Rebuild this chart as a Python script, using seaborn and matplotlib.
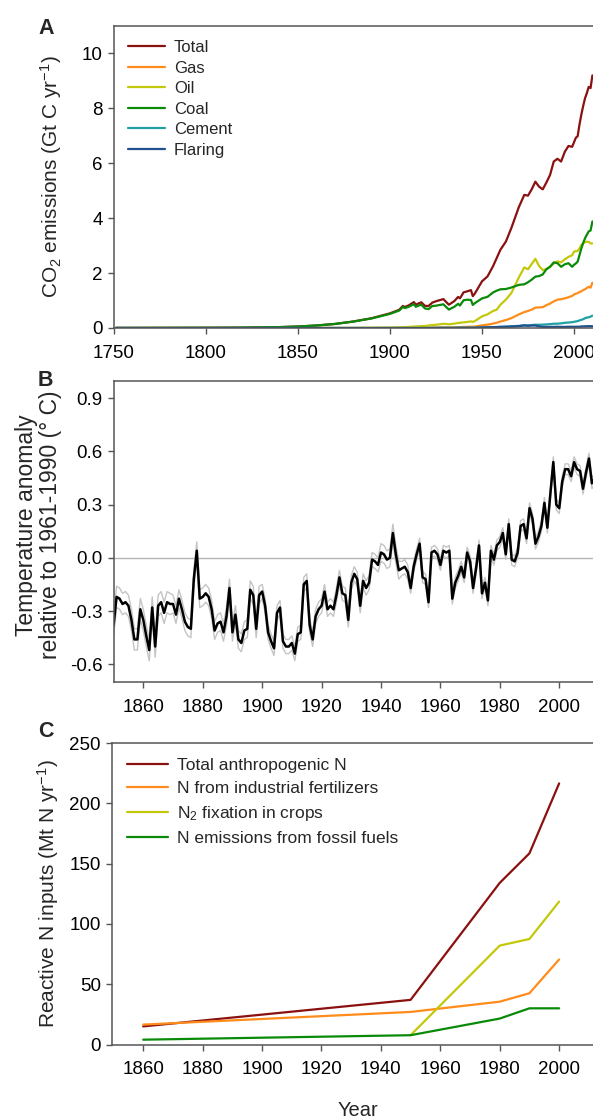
import numpy as np
import pandas as pd
import matplotlib
matplotlib.use("Agg")
import matplotlib.pyplot as plt
import seaborn as sns

# ---- panel A: CO2 emissions by source (Gt C / yr) ----
years_a = [1751, 1760, 1770, 1780, 1790, 1800, 1810, 1820, 1830, 1840,
           1850, 1860, 1870, 1880, 1890, 1900, 1905, 1907, 1908, 1910,
           1913, 1914, 1917, 1919, 1921, 1923, 1925, 1929, 1932, 1935,
           1937, 1938, 1940, 1942, 1944, 1945, 1946, 1950, 1953, 1956,
           1958, 1960, 1963, 1966, 1970, 1973, 1975, 1977, 1979, 1981,
           1983, 1985, 1987, 1989, 1991, 1993, 1995, 1997, 1999,
           2000, 2001, 2002, 2003, 2004, 2005, 2006, 2007, 2008, 2009, 2010]
total_a = [.003, .003, .004, .005, .007, .008, .010, .014, .024, .033,
           .054, .091, .147, .236, .356, .534, .663, .805, .764, .819,
           .943, .850, .936, .806, .803, .925, .975, 1.053, .848, .982,
           1.132, 1.080, 1.299, 1.336, 1.380, 1.160, 1.242, 1.700, 1.880, 2.250,
           2.550, 2.850, 3.150, 3.650, 4.400, 4.850, 4.820, 5.050, 5.330, 5.150,
           5.050, 5.300, 5.576, 6.065, 6.164, 6.063, 6.418, 6.630, 6.600,
           6.765, 6.930, 6.987, 7.420, 7.776, 8.090, 8.370, 8.560, 8.783, 8.740, 9.200]
gas_a = [0, 0, 0, 0, 0, 0, 0, 0, 0, 0,
         0, 0, 0, 0, .002, .003, .004, .005, .005, .006,
         .007, .007, .008, .009, .010, .015, .017, .025, .022, .025,
         .030, .030, .040, .042, .048, .045, .050, .097, .120, .160,
         .190, .235, .290, .360, .493, .580, .620, .670, .740, .750,
         .760, .830, .890, .970, 1.030, 1.050, 1.080, 1.120, 1.170,
         1.220, 1.250, 1.270, 1.310, 1.340, 1.380, 1.410, 1.460, 1.500, 1.470, 1.650]
oil_a = [0, 0, 0, 0, 0, 0, 0, 0, 0, 0,
         0, 0, .001, .003, .008, .016, .024, .030, .032, .037,
         .054, .055, .068, .072, .090, .105, .118, .152, .136, .158,
         .182, .190, .205, .220, .240, .225, .247, .423, .497, .620,
         .665, .849, 1.035, 1.280, 1.839, 2.207, 2.139, 2.330, 2.520, 2.260,
         2.110, 2.150, 2.230, 2.350, 2.430, 2.390, 2.500, 2.590, 2.650,
         2.780, 2.800, 2.810, 2.900, 3.030, 3.080, 3.130, 3.140, 3.140, 3.080, 3.080]
coal_a = [.003, .003, .004, .005, .007, .008, .010, .014, .024, .033,
          .054, .091, .147, .234, .348, .515, .635, .767, .725, .767,
          .868, .774, .852, .712, .690, .800, .813, .863, .672, .775,
          .880, .817, 1.010, 1.030, 1.020, .840, .900, 1.078, 1.135, 1.295,
          1.360, 1.410, 1.420, 1.475, 1.571, 1.593, 1.666, 1.760, 1.871, 1.890,
          1.950, 2.140, 2.230, 2.390, 2.360, 2.230, 2.320, 2.360, 2.230,
          2.300, 2.350, 2.420, 2.660, 2.900, 3.100, 3.270, 3.400, 3.520, 3.550, 3.880]
cement_a = [0, 0, 0, 0, 0, 0, 0, 0, 0, 0,
            0, 0, 0, 0, 0, 0, 0, 0, 0, 0,
            0, 0, 0, 0, 0, .005, .006, .010, .008, .009,
            .011, .011, .012, .011, .008, .008, .011, .018, .022, .028,
            .032, .043, .050, .060, .078, .095, .095, .106, .119, .118,
            .122, .131, .142, .155, .157, .169, .190, .200, .210,
            .226, .238, .252, .276, .298, .320, .356, .382, .388, .413, .450]
flaring_a = [0, 0, 0, 0, 0, 0, 0, 0, 0, 0,
             0, 0, 0, 0, 0, 0, 0, 0, 0, 0,
             0, 0, 0, 0, 0, 0, 0, 0, 0, 0,
             .004, .004, .005, .006, .007, .007, .008, .023, .024, .031,
             .036, .039, .045, .055, .068, .095, .080, .090, .090, .060,
             .040, .040, .040, .040, .045, .040, .040, .045, .045,
             .045, .045, .046, .048, .055, .060, .062, .064, .068, .066, .065]

# ---- panel B: temperature anomaly (deg C, relative to 1961-1990) ----
years_b = list(range(1850, 2013))
temp_b = [-0.38, -0.22, -0.23, -0.26, -0.25, -0.27, -0.35, -0.46, -0.46, -0.29,
          -0.35, -0.44, -0.52, -0.28, -0.50, -0.27, -0.25, -0.31, -0.25, -0.26,
          -0.26, -0.32, -0.23, -0.29, -0.36, -0.39, -0.40, -0.12, 0.04, -0.23,
          -0.22, -0.20, -0.22, -0.29, -0.41, -0.37, -0.36, -0.42, -0.33, -0.17,
          -0.42, -0.32, -0.46, -0.48, -0.41, -0.40, -0.18, -0.21, -0.40, -0.21,
          -0.19, -0.27, -0.42, -0.47, -0.51, -0.31, -0.28, -0.47, -0.50, -0.50,
          -0.48, -0.54, -0.43, -0.42, -0.15, -0.13, -0.38, -0.46, -0.33, -0.29,
          -0.27, -0.19, -0.29, -0.27, -0.29, -0.21, -0.11, -0.20, -0.21, -0.35,
          -0.14, -0.09, -0.12, -0.27, -0.13, -0.17, -0.14, -0.01, -0.02, -0.04,
          0.03, 0.02, -0.01, 0.00, 0.14, 0.02, -0.07, -0.06, -0.05, -0.08,
          -0.17, -0.05, 0.02, 0.08, -0.11, -0.12, -0.25, 0.03, 0.04, 0.02,
          -0.04, 0.04, 0.03, 0.04, -0.23, -0.14, -0.10, -0.05, -0.11, 0.03,
          -0.02, -0.17, -0.06, 0.07, -0.20, -0.14, -0.24, 0.04, -0.01, 0.07,
          0.09, 0.14, 0.02, 0.19, -0.01, -0.02, 0.03, 0.18, 0.19, 0.11,
          0.28, 0.22, 0.08, 0.12, 0.18, 0.31, 0.17, 0.36, 0.54, 0.30,
          0.28, 0.43, 0.50, 0.50, 0.46, 0.54, 0.50, 0.49, 0.39, 0.48,
          0.56, 0.42, 0.45]
# half-width of the grey uncertainty band
spread_b = [0.06, 0.06, 0.06, 0.06, 0.06, 0.06, 0.06, 0.06, 0.06, 0.06,
            0.06, 0.06, 0.06, 0.06, 0.06, 0.06, 0.06, 0.06, 0.06, 0.06,
            0.05, 0.05, 0.05, 0.05, 0.05, 0.05, 0.05, 0.05, 0.05, 0.05,
            0.05, 0.05, 0.05, 0.05, 0.05, 0.05, 0.05, 0.05, 0.05, 0.05,
            0.05, 0.05, 0.05, 0.05, 0.05, 0.05, 0.05, 0.05, 0.05, 0.05,
            0.04, 0.04, 0.04, 0.04, 0.04, 0.04, 0.04, 0.04, 0.04, 0.04,
            0.04, 0.04, 0.04, 0.04, 0.04, 0.04, 0.04, 0.04, 0.04, 0.04,
            0.04, 0.04, 0.04, 0.04, 0.04, 0.04, 0.04, 0.04, 0.04, 0.04,
            0.04, 0.04, 0.04, 0.04, 0.04, 0.04, 0.04, 0.04, 0.04, 0.04,
            0.05, 0.05, 0.05, 0.05, 0.05, 0.05, 0.05, 0.04, 0.04, 0.04,
            0.03, 0.03, 0.03, 0.03, 0.03, 0.03, 0.03, 0.03, 0.03, 0.03,
            0.03, 0.03, 0.03, 0.03, 0.03, 0.03, 0.03, 0.03, 0.03, 0.03,
            0.03, 0.03, 0.03, 0.03, 0.03, 0.03, 0.03, 0.03, 0.03, 0.03,
            0.03, 0.03, 0.03, 0.03, 0.03, 0.03, 0.03, 0.03, 0.03, 0.03,
            0.03, 0.03, 0.03, 0.03, 0.03, 0.03, 0.03, 0.03, 0.03, 0.03,
            0.03, 0.03, 0.03, 0.03, 0.03, 0.03, 0.03, 0.03, 0.03, 0.03,
            0.03, 0.03, 0.03]

# ---- panel C: reactive N inputs (Mt N / yr) ----
years_c = [1860, 1950, 1980, 1990, 2000]
total_c = [15, 37, 134, 158.5, 216.5]
fert_c = [16.5, 27, 35.5, 42.5, 70.5]
fix_c = [np.nan, 7.7, 82, 87.5, 118.5]
fossil_c = [4, 7.7, 21.5, 30, 30]

RED = "#8b1010"
ORANGE = "#ff8c1a"
OLIVE = "#c3c80a"
GREEN = "#098a09"
TEAL = "#1fa0a5"
NAVY = "#1f5090"
SPINE = "#555555"

sns.set_theme(style="ticks")
plt.rcParams["font.family"] = ["Liberation Sans", "DejaVu Sans"]
plt.rcParams["mathtext.fontset"] = "custom"
plt.rcParams["mathtext.rm"] = "Liberation Sans"
plt.rcParams["mathtext.it"] = "Liberation Sans:italic"
plt.rcParams["axes.unicode_minus"] = False

W, H = 593, 1119
fig = plt.figure(figsize=(W / 100, H / 100), dpi=100)


def add_axes(left, top, bottom, width):
    return fig.add_axes([left / W, 1 - bottom / H, width / W, (bottom - top) / H])


def style(ax):
    for side in ["left", "bottom", "top"]:
        ax.spines[side].set_color(SPINE)
        ax.spines[side].set_linewidth(1.1)
    ax.spines["right"].set_visible(False)
    ax.tick_params(axis="both", direction="out", length=4, width=1, color=SPINE,
                   labelsize=13.5, labelcolor="black", top=False, right=False)
    ax.tick_params(axis="x", pad=8)
    ax.tick_params(axis="y", pad=4)


# ---- A ----
axA = add_axes(114, 26, 328, 270 * 1.84)
series_a = [("Total", total_a, RED), ("Gas", gas_a, ORANGE), ("Oil", oil_a, OLIVE),
            ("Coal", coal_a, GREEN), ("Cement", cement_a, TEAL), ("Flaring", flaring_a, NAVY)]
for name, vals, col in series_a:
    sns.lineplot(x=years_a, y=vals, ax=axA, color=col, lw=1.6, label=name,
                 estimator=None, sort=False)
axA.set_xlim(1750, 2020)
axA.set_ylim(0, 11)
axA.set_xticks([1750, 1800, 1850, 1900, 1950, 2000])
axA.set_yticks([0, 2, 4, 6, 8, 10])
axA.set_ylabel("CO$_2$ emissions (Gt C yr$^{-1}$)", fontsize=15)
axA.yaxis.set_label_coords(-0.10, 0.5)
style(axA)
axA.legend(loc="upper left", frameon=False, fontsize=12, handlelength=2.2,
           handletextpad=0.55, labelspacing=0.33, borderaxespad=0.3, borderpad=0.55)

# ---- B ----
axB = add_axes(113.6, 380.5, 682, 170 * 2.971)
lower_b = [t - s for t, s in zip(temp_b, spread_b)]
upper_b = [t + s for t, s in zip(temp_b, spread_b)]
axB.axhline(0, color="#b4b4b4", lw=1)
sns.lineplot(x=years_b, y=lower_b, ax=axB, color="#c4c4c4", lw=1.0, estimator=None)
sns.lineplot(x=years_b, y=upper_b, ax=axB, color="#c4c4c4", lw=1.0, estimator=None)
sns.lineplot(x=years_b, y=temp_b, ax=axB, color="black", lw=1.8, estimator=None)
axB.set_xlim(1850, 2020)
axB.set_ylim(-0.7, 1.0)
axB.set_xticks(range(1860, 2001, 20))
axB.set_yticks([-0.6, -0.3, 0.0, 0.3, 0.6, 0.9])
axB.set_yticklabels(["%.1f" % v for v in [-0.6, -0.3, 0.0, 0.3, 0.6, 0.9]])
axB.set_ylabel("Temperature anomaly\nrelative to 1961-1990 (° C)", fontsize=16.5,
               linespacing=1.05)
axB.yaxis.set_label_coords(-0.102, 0.52)
style(axB)

# ---- C ----
axC = add_axes(112, 743, 1044.5, 170.5 * 2.971)
series_c = [("Total anthropogenic N", total_c, RED),
            ("N from industrial fertilizers", fert_c, ORANGE),
            ("N$_2$ fixation in crops", fix_c, OLIVE),
            ("N emissions from fossil fuels", fossil_c, GREEN)]
for name, vals, col in series_c:
    sns.lineplot(x=years_c, y=vals, ax=axC, color=col, lw=1.6, label=name,
                 estimator=None, sort=False)
axC.set_xlim(1849.5, 2020)
axC.set_ylim(0, 250)
axC.set_xticks(range(1860, 2001, 20))
axC.set_yticks(range(0, 251, 50))
axC.set_ylabel("Reactive N inputs (Mt N yr$^{-1}$)", fontsize=15)
axC.yaxis.set_label_coords(-0.10, 0.5)
style(axC)
axC.legend(loc="upper left", frameon=False, fontsize=12.5, handlelength=2.4,
           handletextpad=0.5, labelspacing=0.45, borderaxespad=0.3, borderpad=0.55)

fig.text(358 / W, 1 - 1116 / H, "Year", fontsize=14.5, ha="center", va="baseline")

for lab, base in [("A", 33.5), ("B", 386), ("C", 737)]:
    fig.text(38 / W, 1 - base / H, lab, fontsize=15.5, fontweight="bold",
             ha="left", va="baseline")

fig.savefig("out.png", dpi=100)
